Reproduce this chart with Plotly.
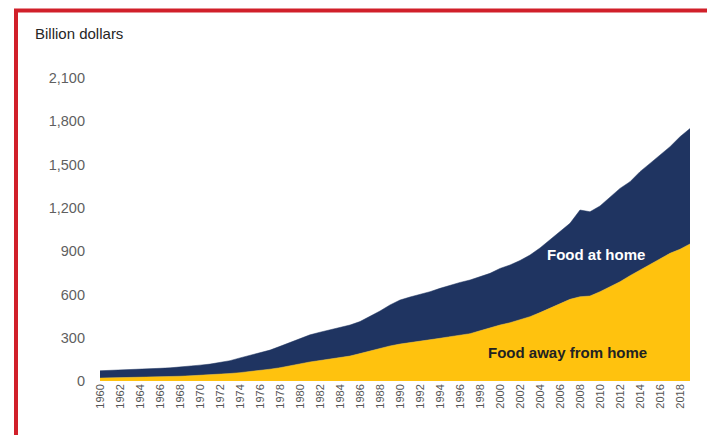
import plotly.graph_objects as go

years = list(range(1960, 2020))

total_spending = [71, 73, 75, 77, 80, 84, 88, 91, 96, 102,
                  110, 117, 127, 141, 160, 178, 196, 214, 240, 268,
                  296, 320, 338, 353, 370, 388, 412, 446, 485, 527,
                  561, 582, 600, 619, 642, 665, 683, 700, 722, 746,
                  780, 804, 835, 873, 922, 977, 1035, 1093, 1185, 1173,
                  1213, 1277, 1335, 1381, 1451, 1508, 1566, 1624, 1693, 1750]

food_away = [20, 21, 22, 23, 25, 27, 29, 31, 33, 36,
             39, 42, 46, 52, 58, 65, 74, 82, 92, 106,
             120, 132, 142, 152, 162, 173, 190, 208, 225, 243,
             256, 265, 275, 284, 296, 307, 316, 328, 348, 370,
             388, 404, 423, 446, 474, 504, 536, 566, 584, 589,
             619, 654, 688, 730, 769, 808, 850, 885, 913, 950]

food_home = [t - a for t, a in zip(total_spending, food_away)]

y_ticks = [0, 300, 600, 900, 1200, 1500, 1800, 2100]
y_tick_labels = ["0", "300", "600", "900", "1,200", "1,500", "1,800", "2,100"]
x_ticks = list(range(1960, 2020, 2))
x_tick_labels = [str(v) for v in x_ticks]

NAVY = "#1F3461"
GOLD = "#FFC20E"

fig = go.Figure()
fig.add_trace(go.Scatter(
    x=years, y=food_away, stackgroup="s", mode="lines",
    line=dict(width=0.5, color=GOLD), fillcolor=GOLD,
    name="Food away from home", hoverinfo="skip"))
fig.add_trace(go.Scatter(
    x=years, y=food_home, stackgroup="s", mode="lines",
    line=dict(width=0.5, color=NAVY), fillcolor=NAVY,
    name="Food at home", hoverinfo="skip"))

W, H = 707, 435
L, R, T, B = 100, 17, 78, 54
pw = W - L - R
ph = H - T - B

def px(xp):
    return (xp - L) / pw

def py(yp):
    return (H - B - yp) / ph

fig.update_layout(
    width=W, height=H,
    margin=dict(l=L, r=R, t=T, b=B),
    paper_bgcolor="white", plot_bgcolor="white",
    showlegend=False,
    font=dict(family="Liberation Sans, Arial, sans-serif", color="#595959"),
    xaxis=dict(range=[1960, 2019], tickmode="array", tickvals=x_ticks,
               ticktext=x_tick_labels, tickangle=-90, showgrid=False,
               zeroline=False, showline=False, ticks="",
               tickfont=dict(size=11, color="#555555")),
    yaxis=dict(range=[0, 2100], tickmode="array", tickvals=y_ticks,
               ticktext=y_tick_labels, showgrid=False, zeroline=False,
               showline=False, ticks="", ticklabelstandoff=14,
               tickfont=dict(size=14.5, color="#5f5f5f")),
    annotations=[
        dict(text="Billion dollars", xref="paper", yref="paper",
             x=px(33), y=py(33), xanchor="left", yanchor="middle",
             showarrow=False, font=dict(size=15, color="#262626")),
        dict(text="<b>Food at home</b>", x=2009.6, y=880,
             xanchor="center", yanchor="middle", showarrow=False,
             font=dict(size=15, color="white")),
        dict(text="<b>Food away from home</b>", x=2006.7, y=200,
             xanchor="center", yanchor="middle", showarrow=False,
             font=dict(size=15, color="#222222")),
    ],
    shapes=[
        dict(type="line", xref="paper", yref="paper",
             x0=px(16), x1=px(16), y0=py(9), y1=py(440),
             line=dict(color="#D1202A", width=4)),
        dict(type="line", xref="paper", yref="paper",
             x0=px(14), x1=px(710), y0=py(10.5), y1=py(10.5),
             line=dict(color="#D1202A", width=4)),
    ],
)

fig.write_html("out.html",
               config={"displayModeBar": False},
               post_script="document.body.style.margin='0';document.body.style.overflow='hidden';")
